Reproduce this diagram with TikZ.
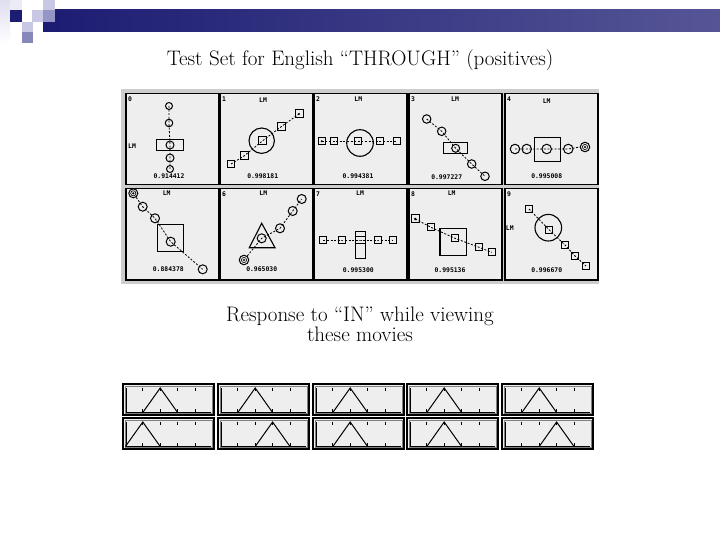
\documentclass[tikz,border=0pt]{standalone}
\usepackage{fontspec}
\newfontfamily\pixfont{DejaVu Sans Mono}
\usetikzlibrary{shapes.geometric}
\definecolor{navy}{RGB}{28,28,115}
\definecolor{barend}{RGB}{85,85,150}
\definecolor{lav1}{RGB}{222,222,240}
\definecolor{lav2}{RGB}{200,200,228}
\definecolor{lav3}{RGB}{150,150,198}
\definecolor{lav4}{RGB}{135,135,185}
\definecolor{panelgray}{RGB}{238,238,238}
\definecolor{gridgray}{RGB}{205,205,205}
\newcommand\respbox[5]{%
 \begin{scope}[shift={(#1,#2)}]
  \draw[fill=panelgray,line width=1.2pt] (0,0) rectangle (91,31);
  \draw[line width=0.4pt,gray] (1.8,1.8) rectangle (89.2,29.2);
  \draw[line width=0.8pt] (3.5,4) -- (3.5,28.5) -- (88,28.5);
  \foreach \k in {1,...,4}{\draw[line width=0.8pt] ({2.4+17.4*\k},3.5) -- ++(0,3);
    \draw[line width=0.8pt] ({2.4+17.4*\k},25) -- ++(0,3.5);}
  \draw[line width=1pt] ({2.4+17.4*#3},28.5) -- ({2.4+17.4*#4},4) -- ({2.4+17.4*#5},28.5);
 \end{scope}}
\begin{document}
\begin{tikzpicture}[x=1pt,y=-1pt,
  panel/.style={draw,line width=1.5pt,fill=panelgray,minimum width=93pt,minimum height=91pt,anchor=north west,inner sep=0pt},
  cir/.style={circle,draw,line width=1pt,minimum size=9pt,inner sep=0pt},
  bigcir/.style={circle,draw,line width=1.1pt,minimum size=26pt,inner sep=0pt},
  sq/.style={rectangle,draw,line width=1pt,minimum size=7pt,inner sep=0pt},
  bigsq/.style={rectangle,draw,line width=1.1pt,inner sep=0pt},
  link/.style={dash pattern=on 2pt off 1.6pt,line width=0.8pt},
  ptxt/.style={font=\pixfont\bfseries\fontsize{6.4}{7}\selectfont,inner sep=0.4pt},
  vtxt/.style={ptxt,fill=panelgray},
  titletxt/.style={font=\fontsize{21}{17}\selectfont,align=center,inner sep=0pt}]
\useasboundingbox (0,0) rectangle (720,540);
% logo
\fill[white] (0,0) rectangle (720,540);
\shade[left color=navy,right color=barend] (43,10) rectangle (720,32);
\shade[top color=lav1,bottom color=white] (0,0) rectangle (10,43);
\fill[lav1!60!white] (10,0) rectangle (22,10);
\fill[navy] (10,10) rectangle (22,22);
\fill[lav2] (32,10) rectangle (43,22);
\fill[lav2] (43,0) rectangle (55,10);
\fill[lav3] (43,10) rectangle (55,22);
\fill[lav2] (22,22) rectangle (33,32);
\fill[lav4] (22,32) rectangle (33,43);
% title
\node[titletxt,anchor=base] (title) at (360,66) {Test Set for English “THROUGH” (positives)};
% grid background
\fill[gridgray] (121,89) rectangle (599,284);
% ---------- panel 0
\begin{scope}[shift={(125,93)}]
 \node[panel] (P0) at (0,0) {};
 \node[ptxt] (n0) at (5,6) {0};
 \node[ptxt] (l0) at (7,53) {LM};
 \node[bigsq,minimum width=26.6pt,minimum height=11pt] (r0) at (45,52.2) {};
 \node[cir,minimum size=7pt] (a0) at (44,13) {};
 \node[cir,minimum size=7.5pt] (b0) at (44,30) {};
 \node[cir,minimum size=8pt] (c0) at (45,52) {};
 \node[cir,minimum size=8pt] (d0) at (45,65) {};
 \node[cir,minimum size=7pt] (e0) at (45,76) {};
 \draw[link] (a0.center) -- (b0.center) -- (c0.center) -- (d0.center) -- (e0.center);
 \node[vtxt] (v0) at (44,83) {0.914412};
\end{scope}
% ---------- panel 1
\begin{scope}[shift={(219,93)}]
 \node[panel] (P1) at (0,0) {};
 \node[ptxt] (n1) at (5,6) {1};
 \node[ptxt] (l1) at (44,7) {LM};
 \node[bigcir,minimum size=25.4pt] (g1) at (42.7,47.7) {};
 \node[sq] (a1) at (12,71) {};
 \node[sq,minimum size=8pt] (b1) at (25,63) {};
 \node[sq,minimum size=8pt] (c1) at (43.7,47.7) {};
 \node[sq,minimum size=8pt] (d1) at (62.7,33.3) {};
 \node[sq,minimum size=8pt] (e1) at (80,21) {};
 \fill (e1.center) circle (1.1);
 \draw[link] (a1.center) -- (b1.center) -- (c1.center) -- (d1.center) -- (e1.center);
 \node[vtxt] (v1) at (43.7,83) {0.998181};
\end{scope}
% ---------- panel 2
\begin{scope}[shift={(313,93)}]
 \node[panel] (P2) at (0,0) {};
 \node[ptxt] (n2) at (5,6) {2};
 \node[ptxt] (l2) at (45.3,6) {LM};
 \node[bigcir,minimum size=26.6pt] (g2) at (47,50) {};
 \node[sq] (a2) at (8.7,48.3) {};
 \fill (a2.center) circle (1.1);
 \node[sq] (b2) at (21.3,48.3) {};
 \node[sq] (c2) at (45.3,48.3) {};
 \node[sq] (d2) at (67,48.3) {};
 \node[sq] (e2) at (83.7,48.3) {};
 \draw[link] (a2.center) -- (b2.center) -- (c2.center) -- (d2.center) -- (e2.center);
 \node[vtxt] (v2) at (45,83.3) {0.994381};
\end{scope}
% ---------- panel 3
\begin{scope}[shift={(408,93)}]
 \node[panel] (P3) at (0,0) {};
 \node[ptxt] (n3) at (5,6) {3};
 \node[ptxt] (l3) at (47,6) {LM};
 \node[bigsq,minimum width=24pt,minimum height=10.5pt] (r3) at (47.3,55) {};
 \node[cir,minimum size=8.5pt] (a3) at (18.7,26) {};
 \node[cir,minimum size=8.5pt] (b3) at (33.7,38.3) {};
 \node[cir,minimum size=8pt] (c3) at (47.7,55.3) {};
 \node[cir,minimum size=8.5pt] (d3) at (63.7,71) {};
 \node[cir,minimum size=8.5pt] (e3) at (77,83.3) {};
 \draw[link] (a3.center) -- (b3.center) -- (c3.center) -- (d3.center) -- (e3.center);
 \node[vtxt] (v3) at (38.7,84.3) {0.997227};
\end{scope}
% ---------- panel 4
\begin{scope}[shift={(504,93)}]
 \node[panel] (P4) at (0,0) {};
 \node[ptxt] (n4) at (5,6) {4};
 \node[ptxt] (l4) at (42.7,8) {LM};
 \node[bigsq,minimum width=25.7pt,minimum height=24pt] (r4) at (43.2,56.3) {};
 \node[cir,minimum size=9.5pt] (a4) at (11,56) {};
 \node[cir,minimum size=9.5pt] (b4) at (22.7,56) {};
 \node[cir,minimum size=9.5pt] (c4) at (42.7,56) {};
 \node[cir,minimum size=9.5pt] (d4) at (64.3,56) {};
 \node[cir,minimum size=9.5pt] (e4) at (81,54) {};
 \draw[line width=0.6pt] (e4.center) circle (2.6);
 \fill (e4.center) circle (1.2);
 \draw[link] (a4.center) -- (b4.center) -- (c4.center) -- (d4.center) -- (e4.west);
 \node[vtxt] (v4) at (42.7,83.3) {0.995008};
\end{scope}
% ---------- panel 5
\begin{scope}[shift={(125,188)}]
 \node[panel] (P5) at (0,0) {};
 \node[ptxt] (l5) at (41.7,5.5) {LM};
 \node[bigsq,minimum width=26pt,minimum height=26.7pt] (r5) at (45.3,50.3) {};
 \node[cir,minimum size=9pt] (a5) at (8.3,5.3) {};
 \draw[line width=0.6pt] (a5.center) circle (2.6);
 \fill (a5.center) circle (1.2);
 \node[cir] (b5) at (17.7,18.7) {};
 \node[cir] (c5) at (30,30.3) {};
 \node[cir] (d5) at (45.7,53.7) {};
 \node[cir] (e5) at (77.7,81.3) {};
 \draw[link] (a5) -- (b5.center) -- (c5.center) -- (d5.center) -- (e5.center);
 \node[vtxt] (v5) at (43.3,81.3) {0.884378};
\end{scope}
% ---------- panel 6
\begin{scope}[shift={(219,188)}]
 \node[panel] (P6) at (0,0) {};
 \node[ptxt] (n6) at (5,6) {6};
 \node[ptxt] (l6) at (44.3,5.5) {LM};
 \draw[line width=1.1pt] (42.7,35.3) -- (30.3,59.7) -- (56,59.7) -- cycle;
 \node[cir,minimum size=9.5pt] (a6) at (25,72) {};
 \draw[line width=0.6pt] (a6.center) circle (2.6);
 \fill (a6.center) circle (1.2);
 \node[cir] (b6) at (42.7,50.3) {};
 \node[cir] (c6) at (61,40.3) {};
 \node[cir] (d6) at (73.7,23) {};
 \node[cir] (e6) at (82.7,11) {};
 \draw[link] (a6) -- (b6.center) -- (c6.center) -- (d6.center) -- (e6.center);
 \node[vtxt] (v6) at (42.7,81.3) {0.965030};
\end{scope}
% ---------- panel 7
\begin{scope}[shift={(313,188)}]
 \node[panel] (P7) at (0,0) {};
 \node[ptxt] (n7) at (5,6) {7};
 \node[ptxt] (l7) at (47,5.5) {LM};
 \node[bigsq,minimum width=10pt,minimum height=26.6pt] (r7) at (47.5,57) {};
 \node[sq] (a7) at (10.3,52) {};
 \node[sq] (b7) at (28.7,52) {};
 \node[sq,minimum width=10pt,minimum height=7pt] (c7) at (47.5,52) {};
 \node[sq] (d7) at (65.3,52) {};
 \node[sq] (e7) at (80.3,52) {};
 \draw[link] (a7.center) -- (b7.center) -- (c7.center) -- (d7.center) -- (e7.center);
 \node[vtxt] (v7) at (45.3,82) {0.995300};
\end{scope}
% ---------- panel 8
\begin{scope}[shift={(408,188)}]
 \node[panel] (P8) at (0,0) {};
 \node[ptxt] (n8) at (5,6) {8};
 \node[ptxt] (l8) at (43.7,5.5) {LM};
 \node[bigsq,minimum width=26.7pt,minimum height=26.7pt] (r8) at (45.3,53.7) {};
 \node[sq,minimum size=8pt] (a8) at (7.3,31) {};
 \fill (a8.center) circle (1.4);
 \node[sq] (b8) at (23,39.3) {};
 \node[sq] (c8) at (47,50.3) {};
 \node[sq] (d8) at (71,59.3) {};
 \node[sq] (e8) at (83.7,64.3) {};
 \draw[link] (a8.center) -- (b8.center) -- (c8.center) -- (d8.center) -- (e8.center);
 \node[vtxt] (v8) at (42,82) {0.995136};
\end{scope}
% ---------- panel 9
\begin{scope}[shift={(504,188)}]
 \node[panel] (P9) at (0,0) {};
 \node[ptxt] (n9) at (5,6) {9};
 \node[ptxt] (l9) at (5.8,39.7) {LM};
 \node[bigcir,minimum size=26.6pt] (g9) at (44.3,39.7) {};
 \node[sq] (a9) at (25,21) {};
 \node[sq] (b9) at (45.3,42) {};
 \node[sq] (c9) at (61,57) {};
 \node[sq] (d9) at (71,68) {};
 \node[sq] (e9) at (82,78) {};
 \draw[link] (a9.center) -- (b9.center) -- (c9.center) -- (d9.center) -- (e9.center);
 \node[vtxt] (v9) at (42.7,82) {0.996670};
\end{scope}
% response text
\node[titletxt,anchor=base] (resp) at (360,341) {Response to “IN” while viewing\\these movies};
% response plots
\respbox{123}{384}{1}{2}{3}
\respbox{218}{384}{1}{2}{3}
\respbox{313}{384}{1}{2}{3}
\respbox{407}{384}{1}{2}{3}
\respbox{502}{384}{1}{2}{3}
\respbox{123}{418}{0}{1}{2}
\respbox{218}{418}{2}{3}{4}
\respbox{313}{418}{1}{2}{3}
\respbox{407}{418}{1}{2}{3}
\respbox{502}{418}{2}{3}{4}
\end{tikzpicture}
\end{document}
